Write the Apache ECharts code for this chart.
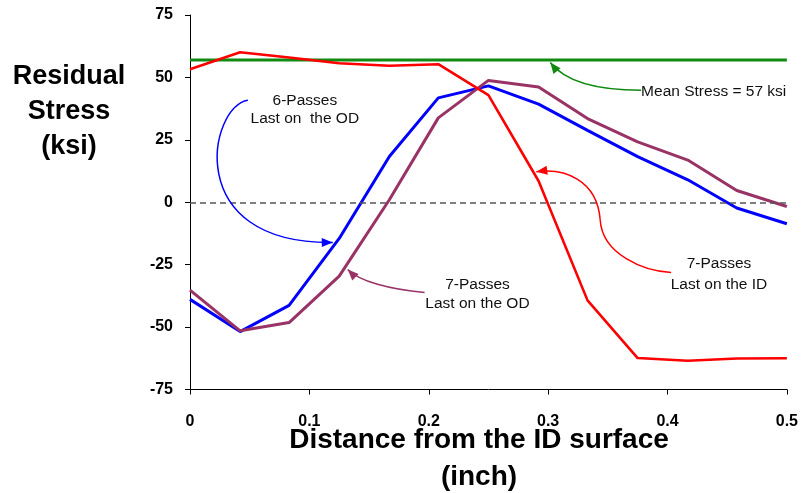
<!DOCTYPE html>
<html>
<head>
<meta charset="utf-8">
<script src="https://cdn.jsdelivr.net/npm/echarts@6/dist/echarts.min.js"></script>
<style>
  html, body { margin: 0; padding: 0; background: #fff; }
  #chart { width: 801px; height: 493px; }
</style>
</head>
<body>
<div id="chart"></div>
<script>
// distance from the ID surface (inch)
const depth = [0, 0.042, 0.083, 0.125, 0.167, 0.208, 0.25, 0.292, 0.333, 0.375, 0.417, 0.458, 0.5]
// residual stress (ksi)
const sevenLastID = [53.3, 60.1, 58.0, 55.7, 54.7, 55.3, 42.9, 8.5, -39.3, -62.4, -63.5, -62.6, -62.5]
const sixLastOD = [-38.9, -51.8, -41.3, -14.5, 18.3, 41.8, 46.6, 39.3, 28.8, 18.3, 9.0, -2.3, -8.6]
const sevenLastOD = [-35.2, -51.5, -48.2, -29.6, 1.0, 33.8, 48.8, 46.2, 33.5, 24.2, 16.9, 4.7, -1.7]
const meanStress = 57
const yTicks = [-75, -50, -25, 0, 25, 50, 75]
const xTicks = [0, 0.1, 0.2, 0.3, 0.4, 0.5]

const FONT = '"Liberation Sans", Arial, sans-serif'

let myChart = echarts.init(document.getElementById('chart'))

function pairs(ys) {
  return depth.map((x, i) => [x, ys[i]])
}

myChart.setOption({
  animation: false,
  grid: { left: 190, right: 13, top: 15, bottom: 103.5 },
  xAxis: {
    type: 'value',
    min: xTicks[0],
    max: xTicks[xTicks.length - 1],
    interval: 0.1,
    axisLine: { onZero: false, lineStyle: { color: '#000', width: 1 } },
    axisTick: { show: true, length: 5, lineStyle: { color: '#000' } },
    splitLine: { show: false },
    axisLabel: {
      margin: 24,
      color: '#000',
      fontFamily: FONT,
      fontWeight: 'bold',
      fontSize: 16,
      formatter: v => (v === 0 ? '0' : parseFloat(v.toFixed(1)).toString())
    }
  },
  yAxis: {
    type: 'value',
    min: yTicks[0],
    max: yTicks[yTicks.length - 1],
    interval: 25,
    axisLine: { show: true, onZero: false, lineStyle: { color: '#000', width: 1 } },
    axisTick: { show: true, length: 5, lineStyle: { color: '#000' } },
    splitLine: { show: false },
    axisLabel: {
      margin: 17,
      color: '#000',
      fontFamily: FONT,
      fontWeight: 'bold',
      fontSize: 16
    }
  },
  series: [
    {
      name: 'Mean Stress',
      type: 'line',
      data: [[xTicks[0], meanStress], [xTicks[xTicks.length - 1], meanStress]],
      showSymbol: false,
      lineStyle: { color: '#118a11', width: 3 },
      z: 2,
      markLine: {
        silent: true,
        symbol: 'none',
        label: { show: false },
        lineStyle: { color: '#555', type: [6, 4], width: 1.5 },
        data: [{ yAxis: 0 }]
      }
    },
    {
      name: '6-Passes Last on the OD',
      type: 'line',
      data: pairs(sixLastOD),
      showSymbol: false,
      lineStyle: { color: '#0000ff', width: 3 },
      z: 3
    },
    {
      name: '7-Passes Last on the OD',
      type: 'line',
      data: pairs(sevenLastOD),
      showSymbol: false,
      lineStyle: { color: '#993366', width: 3 },
      z: 3
    },
    {
      name: '7-Passes Last on the ID',
      type: 'line',
      data: pairs(sevenLastID),
      showSymbol: false,
      lineStyle: { color: '#ff0000', width: 2.6 },
      z: 4
    }
  ]
})

// annotation arrows, in data units (chains of cubic bezier points)
const arrows = [
  { color: '#0000ff', pts: [[0.0485, 40.9], [0.0167, 38.9], [-0.0084, -16.9], [0.1196, -16.1]] },
  { color: '#ff0000', pts: [[0.4030, -28.1], [0.3804, -27.7], [0.3453, -20.9], [0.3436, -7.0],
                            [0.3411, 9.0], [0.3135, 13.8], [0.2901, 12.2]] },
  { color: '#993366', pts: [[0.1965, -36.1], [0.1672, -34.9], [0.1421, -31.7], [0.1321, -26.9]] },
  { color: '#118a11', pts: [[0.3779, 44.9], [0.3386, 44.9], [0.3135, 48.8], [0.3018, 56.0]] }
]
const notes = [
  { text: '6-Passes\nLast on  the OD', at: [0.0962, 36.9], align: 'center', lh: 18 },
  { text: 'Mean Stress = 57 ksi', at: [0.3779, 44.4], align: 'left', lh: 18 },
  { text: '7-Passes\nLast on the ID', at: [0.4431, -28.7], align: 'center', lh: 21 },
  { text: '7-Passes\nLast on the OD', at: [0.2408, -36.7], align: 'center', lh: 19 }
]

let graphics = []
arrows.forEach(a => {
  let p = a.pts.map(d => myChart.convertToPixel({ gridIndex: 0 }, d))
  for (let i = 0; i + 3 < p.length; i += 3) {
    graphics.push({
      type: 'bezierCurve',
      shape: {
        x1: p[i][0], y1: p[i][1],
        cpx1: p[i + 1][0], cpy1: p[i + 1][1],
        cpx2: p[i + 2][0], cpy2: p[i + 2][1],
        x2: p[i + 3][0], y2: p[i + 3][1]
      },
      style: { stroke: a.color, lineWidth: 1.5, fill: null },
      z: 10
    })
  }
  let tip = p[p.length - 1]
  let from = p[p.length - 2]
  let dx = tip[0] - from[0], dy = tip[1] - from[1]
  let len = Math.sqrt(dx * dx + dy * dy)
  dx /= len; dy /= len
  let L = 11, W = 4.5
  let bx = tip[0] - dx * L, by = tip[1] - dy * L
  graphics.push({
    type: 'polygon',
    shape: { points: [[tip[0], tip[1]], [bx - dy * W, by + dx * W], [bx + dy * W, by - dx * W]] },
    style: { fill: a.color },
    z: 11
  })
})
notes.forEach(n => {
  let c = myChart.convertToPixel({ gridIndex: 0 }, n.at)
  graphics.push({
    type: 'text',
    style: {
      text: n.text, x: c[0], y: c[1],
      font: '15.5px ' + FONT, fill: '#111',
      align: n.align, verticalAlign: 'middle', lineHeight: n.lh
    },
    z: 12
  })
})
// axis titles
graphics.push({
  type: 'text',
  style: {
    text: 'Residual\nStress\n(ksi)', x: 69, y: 112,
    font: 'bold 27px ' + FONT, fill: '#000',
    align: 'center', verticalAlign: 'middle', lineHeight: 35
  }
})
graphics.push({
  type: 'text',
  style: {
    text: 'Distance from the ID surface\n(inch)', x: 479, y: 459,
    font: 'bold 28px ' + FONT, fill: '#000',
    align: 'center', verticalAlign: 'middle', lineHeight: 37
  }
})

myChart.setOption({ graphic: graphics })
</script>
</body>
</html>
